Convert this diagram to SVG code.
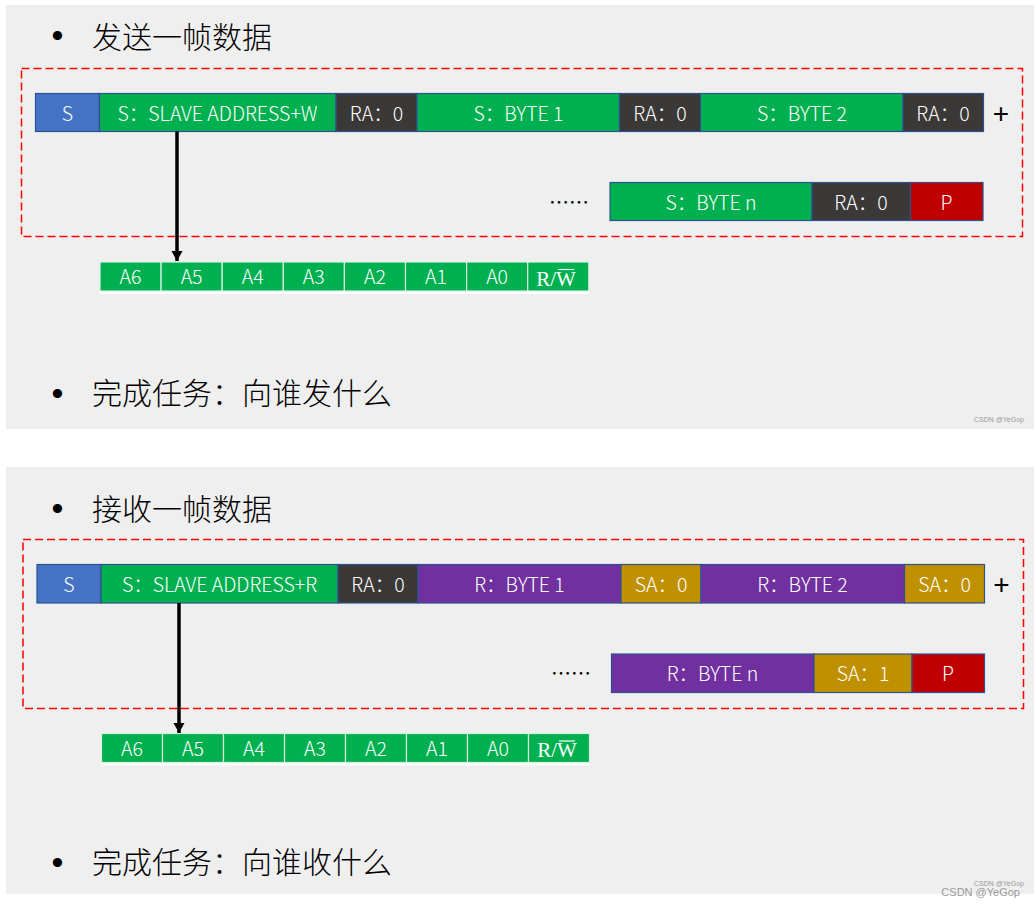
<svg xmlns="http://www.w3.org/2000/svg" width="1036" height="906" viewBox="0 0 1036 906">
<defs>
<marker id="ah" markerUnits="userSpaceOnUse" markerWidth="12" markerHeight="12" refX="10" refY="6" orient="auto" viewBox="0 0 12 12">
<path d="M0,0.5 L10,6 L0,11.5 Z" fill="#000"/>
</marker>
<style>
.panel{fill:#efefef}
.frame{fill:none;stroke:#ff0000;stroke-width:1.5;stroke-dasharray:8 4}
.blk{stroke:#2f528f;stroke-width:1.2}
.blue{fill:#4472c4}.green{fill:#00b050}.dark{fill:#3b3838}.purple{fill:#7030a0}.gold{fill:#bf9000}.red{fill:#c00000}
.bit{fill:#00b050;stroke:#d9f2e0;stroke-width:1.2}
.t{font-family:"Noto Sans CJK SC","Noto Sans",sans-serif;font-size:19.5px;font-weight:300;fill:#fff;text-anchor:middle}
.rw{font-family:"Liberation Serif",serif;font-size:21px;font-weight:normal;fill:#fff;text-anchor:middle}
.ovl{stroke:#fff;stroke-width:1.2}
.title{font-family:"Noto Sans CJK SC",sans-serif;font-size:30px;font-weight:300;fill:#000}
.bullet{font-family:"Liberation Sans",sans-serif;font-size:34px;fill:#000;text-anchor:middle}
.plus{font-family:"Liberation Sans",sans-serif;font-size:28px;fill:#000;text-anchor:middle}
.dots{font-family:"Noto Sans CJK SC",sans-serif;font-size:20px;fill:#000;text-anchor:middle}
.wm{font-family:"Liberation Sans",sans-serif;fill:#999}
.arrow{stroke:#000;stroke-width:3.5;fill:none}
</style>
</defs>

<rect class="panel" x="6" y="5" width="1028" height="424"/>
<rect class="panel" x="6" y="467" width="1028" height="427"/>

<!-- Top section -->
<g id="title-send">
<text class="bullet" x="57.5" y="47">•</text>
<text class="title" x="92" y="47.5">发送一帧数据</text>
</g>
<rect id="frame-send" class="frame" x="21.5" y="68.5" width="1001" height="168"/>

<g id="s1-start"><rect class="blk blue" x="35.5" y="93.5" width="64" height="38"/><text class="t" x="67.5" y="120.5">S</text></g>
<g id="s1-addr"><rect class="blk green" x="99.5" y="93.5" width="236.5" height="38"/><text class="t" x="217.5" y="120.5">S：SLAVE ADDRESS+W</text></g>
<g id="s1-ra1"><rect class="blk dark" x="336" y="93.5" width="81" height="38"/><text class="t" x="376.5" y="120.5">RA：0</text></g>
<g id="s1-b1"><rect class="blk green" x="417" y="93.5" width="202.5" height="38"/><text class="t" x="518.5" y="120.5">S：BYTE 1</text></g>
<g id="s1-ra2"><rect class="blk dark" x="619.5" y="93.5" width="81" height="38"/><text class="t" x="660" y="120.5">RA：0</text></g>
<g id="s1-b2"><rect class="blk green" x="700.5" y="93.5" width="202.5" height="38"/><text class="t" x="802" y="120.5">S：BYTE 2</text></g>
<g id="s1-ra3"><rect class="blk dark" x="903" y="93.5" width="80.5" height="38"/><text class="t" x="943" y="120.5">RA：0</text></g>
<text class="plus" x="1001" y="123">+</text>

<text class="dots" x="569" y="209.5">……</text>
<g id="s1-bn"><rect class="blk green" x="610" y="182.5" width="202" height="38"/><text class="t" x="711" y="209.5">S：BYTE n</text></g>
<g id="s1-ran"><rect class="blk dark" x="812" y="182.5" width="98.5" height="38"/><text class="t" x="861" y="209.5">RA：0</text></g>
<g id="s1-p"><rect class="blk red" x="910.5" y="182.5" width="72.5" height="38"/><text class="t" x="946.5" y="209.5">P</text></g>

<g id="s1-bits">
<rect x="100" y="291" width="489" height="3" fill="#ffffff"/>
<rect class="bit" x="100" y="262" width="61.1" height="29"/><text class="t" x="130.5" y="284">A6</text>
<rect class="bit" x="161.1" y="262" width="61.1" height="29"/><text class="t" x="191.6" y="284">A5</text>
<rect class="bit" x="222.2" y="262" width="61.1" height="29"/><text class="t" x="252.7" y="284">A4</text>
<rect class="bit" x="283.3" y="262" width="61.1" height="29"/><text class="t" x="313.8" y="284">A3</text>
<rect class="bit" x="344.4" y="262" width="61.1" height="29"/><text class="t" x="374.9" y="284">A2</text>
<rect class="bit" x="405.5" y="262" width="61.1" height="29"/><text class="t" x="436" y="284">A1</text>
<rect class="bit" x="466.6" y="262" width="61.1" height="29"/><text class="t" x="497.1" y="284">A0</text>
<rect class="bit" x="527.7" y="262" width="61.1" height="29"/><text class="rw" x="556" y="285.5">R/W</text>
<line class="ovl" x1="558" y1="269.5" x2="574" y2="269.5"/>
</g>

<g id="title-send-task">
<text class="bullet" x="57.5" y="405">•</text>
<text class="title" x="92" y="404">完成任务：向谁发什么</text>
</g>
<text class="wm" x="1024" y="422" font-size="7" text-anchor="end">CSDN @YeGop</text>

<!-- Bottom section -->
<g id="title-recv">
<text class="bullet" x="57.5" y="520">•</text>
<text class="title" x="92" y="519.5">接收一帧数据</text>
</g>
<rect id="frame-recv" class="frame" x="23" y="539.5" width="1000.5" height="169"/>

<g id="s2-start"><rect class="blk blue" x="37" y="564.5" width="64" height="38.5"/><text class="t" x="69" y="591.5">S</text></g>
<g id="s2-addr"><rect class="blk green" x="101" y="564.5" width="237" height="38.5"/><text class="t" x="219.5" y="591.5">S：SLAVE ADDRESS+R</text></g>
<g id="s2-ra"><rect class="blk dark" x="338" y="564.5" width="80" height="38.5"/><text class="t" x="378" y="591.5">RA：0</text></g>
<g id="s2-b1"><rect class="blk purple" x="418" y="564.5" width="203" height="38.5"/><text class="t" x="519.5" y="591.5">R：BYTE 1</text></g>
<g id="s2-sa1"><rect class="blk gold" x="621" y="564.5" width="80" height="38.5"/><text class="t" x="661" y="591.5">SA：0</text></g>
<g id="s2-b2"><rect class="blk purple" x="701" y="564.5" width="203.5" height="38.5"/><text class="t" x="802.5" y="591.5">R：BYTE 2</text></g>
<g id="s2-sa2"><rect class="blk gold" x="904.5" y="564.5" width="80" height="38.5"/><text class="t" x="944.5" y="591.5">SA：0</text></g>
<text class="plus" x="1001.5" y="594">+</text>

<text class="dots" x="571" y="681">……</text>
<g id="s2-bn"><rect class="blk purple" x="611.5" y="654" width="202.5" height="38.5"/><text class="t" x="712.5" y="681">R：BYTE n</text></g>
<g id="s2-san"><rect class="blk gold" x="814" y="654" width="98" height="38.5"/><text class="t" x="863" y="681">SA：1</text></g>
<g id="s2-p"><rect class="blk red" x="912" y="654" width="72.5" height="38.5"/><text class="t" x="948" y="681">P</text></g>

<g id="s2-bits">
<rect x="101.5" y="762.5" width="488" height="3" fill="#ffffff"/>
<rect class="bit" x="101.5" y="733.5" width="61" height="29"/><text class="t" x="132" y="755.5">A6</text>
<rect class="bit" x="162.5" y="733.5" width="61" height="29"/><text class="t" x="193" y="755.5">A5</text>
<rect class="bit" x="223.5" y="733.5" width="61" height="29"/><text class="t" x="254" y="755.5">A4</text>
<rect class="bit" x="284.5" y="733.5" width="61" height="29"/><text class="t" x="315" y="755.5">A3</text>
<rect class="bit" x="345.5" y="733.5" width="61" height="29"/><text class="t" x="376" y="755.5">A2</text>
<rect class="bit" x="406.5" y="733.5" width="61" height="29"/><text class="t" x="437" y="755.5">A1</text>
<rect class="bit" x="467.5" y="733.5" width="61" height="29"/><text class="t" x="498" y="755.5">A0</text>
<rect class="bit" x="528.5" y="733.5" width="61" height="29"/><text class="rw" x="557" y="757">R/W</text>
<line class="ovl" x1="559" y1="741" x2="575" y2="741"/>
</g>

<g id="title-recv-task">
<text class="bullet" x="57.5" y="874">•</text>
<text class="title" x="92" y="873">完成任务：向谁收什么</text>
</g>
<text class="wm" x="1024" y="886" font-size="7" text-anchor="end">CSDN @YeGop</text>
<text class="wm" x="1020" y="896" font-size="11" text-anchor="end">CSDN @YeGop</text>

<g id="connectors">
<line class="arrow" x1="177" y1="131.5" x2="177" y2="261" marker-end="url(#ah)"/>
<line class="arrow" x1="179" y1="603" x2="179" y2="733" marker-end="url(#ah)"/>
</g>
</svg>
